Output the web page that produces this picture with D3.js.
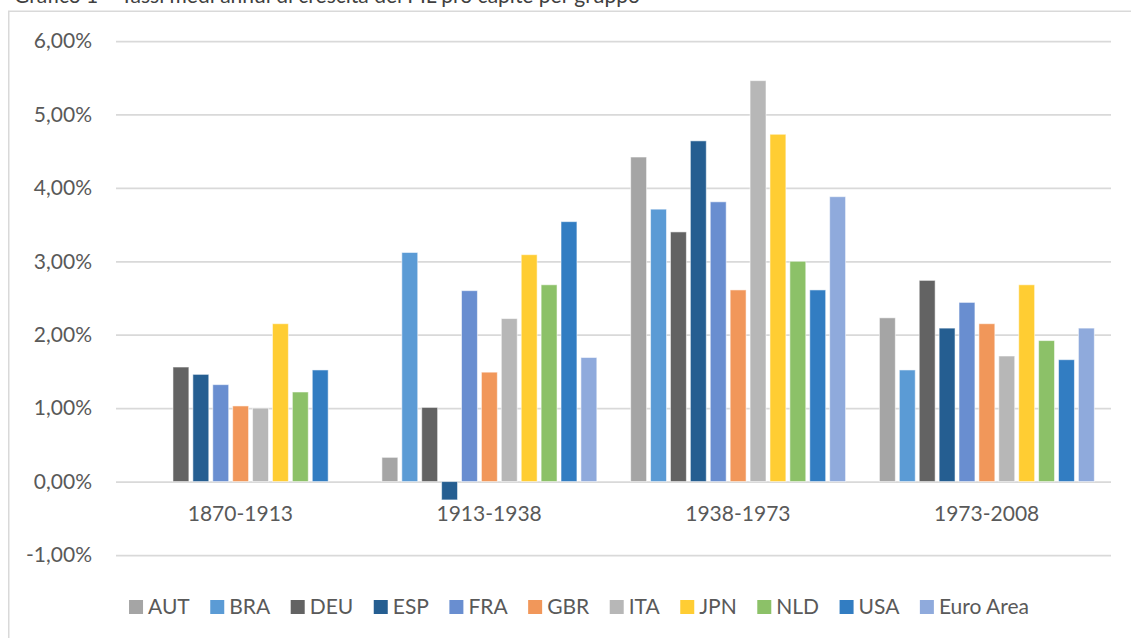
<!DOCTYPE html>
<html>
<head>
<meta charset="utf-8">
<script src="https://cdn.jsdelivr.net/npm/d3@7"></script>
<style>
  html, body { margin: 0; padding: 0; background: #ffffff; }
  svg { display: block; }
  text { font-family: "Lato", "Open Sans", "Liberation Sans", sans-serif; }
</style>
</head>
<body>
<svg id="chart" width="1131" height="638"></svg>
<script>
// ---- data (values in percent) ----
const periods = ["1870-1913", "1913-1938", "1938-1973", "1973-2008"];
const series = ["AUT", "BRA", "DEU", "ESP", "FRA", "GBR", "ITA", "JPN", "NLD", "USA", "Euro Area"];
const AUT  = [null, 0.33, 4.42, 2.23];
const BRA  = [null, 3.12, 3.71, 1.52];
const DEU  = [1.56, 1.01, 3.40, 2.74];
const ESP  = [1.46, -0.25, 4.64, 2.09];
const FRA  = [1.32, 2.60, 3.81, 2.44];
const GBR  = [1.03, 1.49, 2.61, 2.15];
const ITA  = [1.00, 2.22, 5.46, 1.71];
const JPN  = [2.15, 3.09, 4.73, 2.68];
const NLD  = [1.22, 2.68, 3.00, 1.92];
const USA  = [1.52, 3.54, 2.61, 1.66];
const EURO = [null, 1.69, 3.88, 2.09];
const yTicks = [-1, 0, 1, 2, 3, 4, 5, 6];
const colors = ["#A5A5A5", "#5B9BD5", "#636363", "#255E91", "#698ED0", "#F1975A",
                "#B7B7B7", "#FFCD33", "#8CC168", "#327DC2", "#8FAADC"];
const titleText = "Grafico 1 – Tassi medi annui di crescita del PIL pro capite per gruppo";

const valuesBySeries = [AUT, BRA, DEU, ESP, FRA, GBR, ITA, JPN, NLD, USA, EURO];

(function () {
const svg = d3.select("#chart");
const W = 1131, H = 638;
const mLeft = 116, mRight = 1111, mTop = 41, mBottom = 555;

// frame
svg.append("rect").attr("x", 0).attr("y", 0).attr("width", W).attr("height", H).attr("fill", "#ffffff");
svg.append("path")
  .attr("d", `M8.75,${H + 5} L8.75,11.25 L${W + 5},11.25`)
  .attr("fill", "none").attr("stroke", "#d9d9d9").attr("stroke-width", 1.5);

// title (cut off at the top edge, as in the source image)
svg.append("text")
  .attr("x", 14).attr("y", 3)
  .attr("font-size", 21).attr("fill", "#404040")
  .text(titleText);

const y = d3.scaleLinear().domain([-1, 6]).range([mBottom, mTop]);
const x0 = d3.scaleBand().domain(periods).range([mLeft, mRight]).padding(0);
const gw = x0.bandwidth();
const x1 = d3.scaleBand().domain(series).range([gw * 0.069, gw * 0.933]).paddingInner(0.2).paddingOuter(0);

const locale = d3.formatLocale({decimal: ",", thousands: ".", grouping: [3], currency: ["", "€"], minus: "-"});
const fmt = locale.format(".2f");

// y axis with gridlines
const yAxis = d3.axisLeft(y)
  .tickValues(yTicks)
  .tickSizeInner(-(mRight - mLeft))
  .tickSizeOuter(0)
  .tickPadding(24)
  .tickFormat(d => fmt(d) + "%");
const gy = svg.append("g").attr("transform", `translate(${mLeft},0)`).call(yAxis);
gy.select(".domain").remove();
gy.selectAll(".tick line").attr("stroke", "#d9d9d9").attr("stroke-width", 1.75);
gy.selectAll(".tick text").attr("fill", "#595959").attr("font-size", 21)
  .attr("font-family", "Lato, 'Open Sans', sans-serif");

// bars
const rows = [];
periods.forEach((p, i) => {
  series.forEach((s, j) => {
    const v = valuesBySeries[j][i];
    if (v !== null) rows.push({period: p, series: s, value: v, color: colors[j]});
  });
});
svg.append("g").selectAll("rect.bar").data(rows).join("rect")
  .attr("class", "bar")
  .attr("x", d => x0(d.period) + x1(d.series))
  .attr("width", x1.bandwidth())
  .attr("y", d => y(Math.max(0, d.value)))
  .attr("height", d => Math.abs(y(d.value) - y(0)))
  .attr("fill", d => d.color)
  .attr("stroke", "#ffffff").attr("stroke-opacity", 0.55).attr("stroke-width", 1);

// category labels
const xAxis = d3.axisBottom(x0).tickSize(0).tickPadding(0);
const gx = svg.append("g").attr("transform", `translate(0,${y(0)})`).call(xAxis);
gx.select(".domain").remove();
gx.selectAll(".tick text")
  .attr("fill", "#595959").attr("font-size", 21)
  .attr("font-family", "Lato, 'Open Sans', sans-serif")
  .attr("dy", null).attr("y", 521 - y(0));

// legend
const lg = svg.append("g");
const sq = 14, gapT = 5, gapI = 20.5;
let cx = 0;
series.forEach((s, j) => {
  const g = lg.append("g");
  g.append("rect").attr("x", 0).attr("y", -sq).attr("width", sq).attr("height", sq).attr("fill", colors[j]);
  const t = g.append("text").attr("x", sq + gapT).attr("y", 0)
    .attr("font-size", 21).attr("fill", "#595959").text(s);
  const tw = t.node().getComputedTextLength();
  g.attr("transform", `translate(${cx},0)`);
  cx += sq + gapT + tw + gapI;
});
const totalW = cx - gapI;
lg.attr("transform", `translate(${579 - totalW / 2},614)`);
})();
</script>
</body>
</html>
